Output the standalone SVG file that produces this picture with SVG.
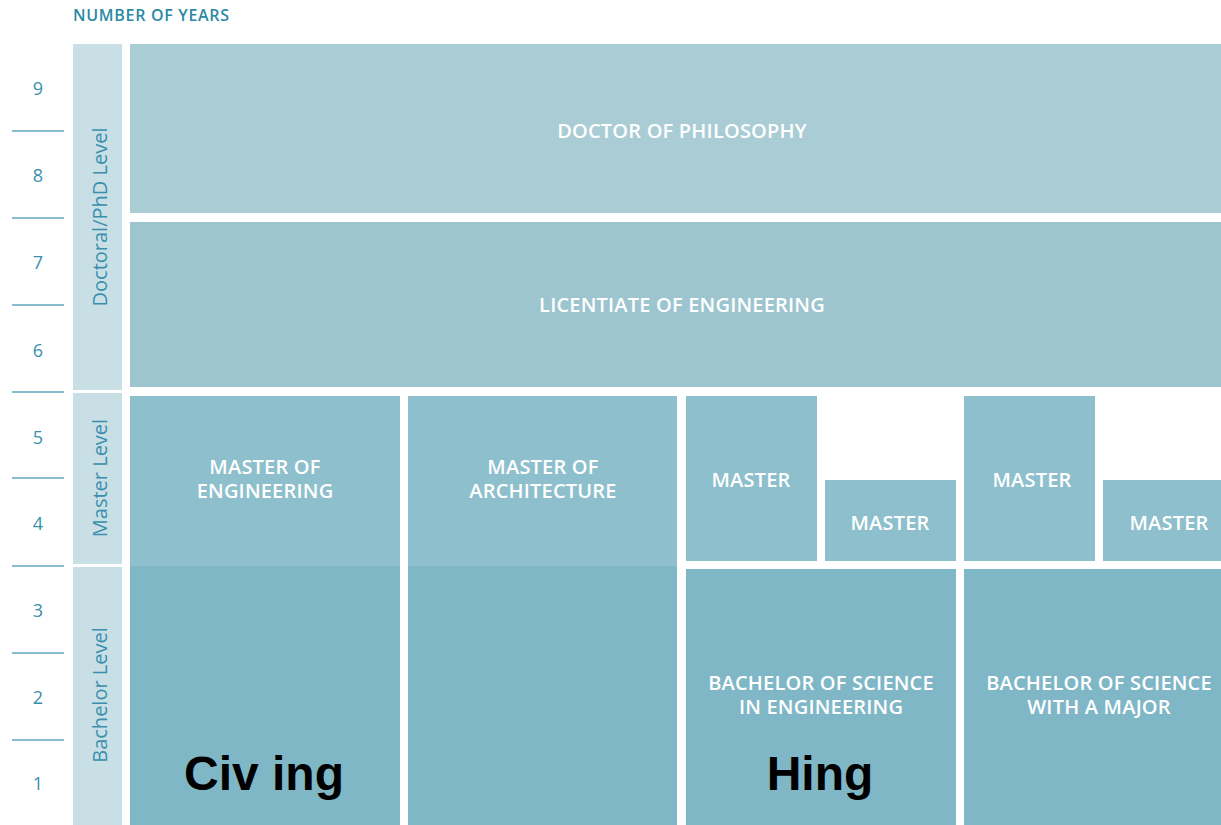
<svg xmlns="http://www.w3.org/2000/svg" width="1221" height="825" viewBox="0 0 1221 825">
<style>
.yr{font-family:"Open Sans","Liberation Sans",sans-serif;font-size:18px;fill:#3a8fae;text-anchor:middle}
.tick{stroke:#5fa9bf;stroke-width:1.5}
.side{fill:#c8dfe5}
.lvl{font-family:"Open Sans","Liberation Sans",sans-serif;font-size:20px;fill:#3a8fae;text-anchor:middle}
.lbl{font-family:"Open Sans","Liberation Sans",sans-serif;font-weight:600;font-size:20px;letter-spacing:0.2px;fill:#ffffff;text-anchor:middle}
.big{font-family:"Liberation Sans",Arial,sans-serif;font-weight:bold;font-size:48px;fill:#000000;text-anchor:middle}
.phd{fill:#aacdd5}
.lic{fill:#9dc5d0}
.mst{fill:#8ebfcc}
.bac{fill:#7fb7c7}
</style>
<rect width="1221" height="825" fill="#ffffff"/>
<text x="73" y="21" font-family="'Open Sans','Liberation Sans',sans-serif" font-size="16" font-weight="600" letter-spacing="0.7" fill="#2a8aa5">NUMBER OF YEARS</text>
<g id="years">
<text class="yr" x="38" y="95">9</text>
<text class="yr" x="38" y="182">8</text>
<text class="yr" x="38" y="269">7</text>
<text class="yr" x="38" y="357">6</text>
<text class="yr" x="38" y="444">5</text>
<text class="yr" x="38" y="530">4</text>
<text class="yr" x="38" y="617">3</text>
<text class="yr" x="38" y="704">2</text>
<text class="yr" x="38" y="790">1</text>
<line class="tick" x1="12" y1="131" x2="64" y2="131"/>
<line class="tick" x1="12" y1="218" x2="64" y2="218"/>
<line class="tick" x1="12" y1="305" x2="64" y2="305"/>
<line class="tick" x1="12" y1="392" x2="64" y2="392"/>
<line class="tick" x1="12" y1="478" x2="64" y2="478"/>
<line class="tick" x1="12" y1="566" x2="64" y2="566"/>
<line class="tick" x1="12" y1="653" x2="64" y2="653"/>
<line class="tick" x1="12" y1="740" x2="64" y2="740"/>
</g>
<g id="level-doctoral">
<rect class="side" x="73" y="44" width="49" height="346"/>
<text class="lvl" transform="translate(107,217) rotate(-90)">Doctoral/PhD Level</text>
</g>
<g id="level-master">
<rect class="side" x="73" y="393" width="49" height="171"/>
<text class="lvl" transform="translate(107,478) rotate(-90)">Master Level</text>
</g>
<g id="level-bachelor">
<rect class="side" x="73" y="567" width="49" height="258"/>
<text class="lvl" transform="translate(107,695) rotate(-90)">Bachelor Level</text>
</g>
<g id="phd">
<rect class="phd" x="130" y="44" width="1091" height="169"/>
<text class="lbl" x="682" y="138">DOCTOR OF PHILOSOPHY</text>
</g>
<g id="lic">
<rect class="lic" x="130" y="222" width="1091" height="165"/>
<text class="lbl" x="682" y="312">LICENTIATE OF ENGINEERING</text>
</g>
<g id="civing">
<rect class="bac" x="130" y="396" width="270" height="429"/>
<rect class="mst" x="130" y="396" width="270" height="170"/>
<text class="lbl" x="265" y="474">MASTER OF</text>
<text class="lbl" x="265" y="498">ENGINEERING</text>
<text class="big" x="264" y="790">Civ ing</text>
</g>
<g id="arch">
<rect class="bac" x="408" y="396" width="269" height="429"/>
<rect class="mst" x="408" y="396" width="269" height="170"/>
<text class="lbl" x="543" y="474">MASTER OF</text>
<text class="lbl" x="543" y="498">ARCHITECTURE</text>
</g>
<g id="master1">
<rect class="mst" x="686" y="396" width="131" height="165"/>
<text class="lbl" x="751" y="487">MASTER</text>
</g>
<g id="master2">
<rect class="mst" x="825" y="480" width="131" height="81"/>
<text class="lbl" x="890" y="530">MASTER</text>
</g>
<g id="master3">
<rect class="mst" x="964" y="396" width="131" height="165"/>
<text class="lbl" x="1032" y="487">MASTER</text>
</g>
<g id="master4">
<rect class="mst" x="1103" y="480" width="118" height="81"/>
<text class="lbl" x="1169" y="530">MASTER</text>
</g>
<g id="bsc-eng">
<rect class="bac" x="686" y="569" width="270" height="256"/>
<text class="lbl" x="821" y="690">BACHELOR OF SCIENCE</text>
<text class="lbl" x="821" y="714">IN ENGINEERING</text>
<text class="big" x="820" y="790">Hing</text>
</g>
<g id="bsc-major">
<rect class="bac" x="964" y="569" width="257" height="256"/>
<text class="lbl" x="1099" y="690">BACHELOR OF SCIENCE</text>
<text class="lbl" x="1099" y="714">WITH A MAJOR</text>
</g>
<g id="connectors"/>
</svg>
